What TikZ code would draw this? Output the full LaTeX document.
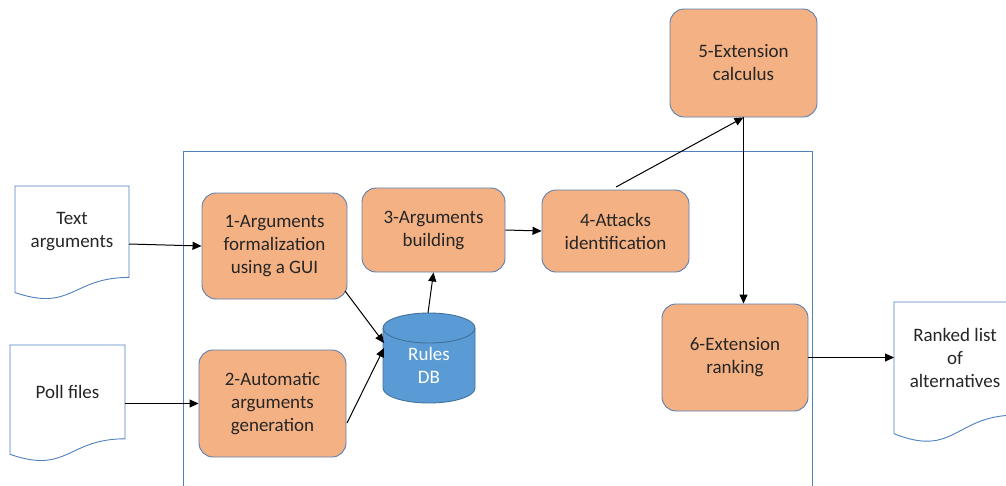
\documentclass[tikz,border=0pt]{standalone}
\usepackage{fontspec}
\setmainfont{Carlito}
\usetikzlibrary{arrows.meta}
\definecolor{boxfill}{HTML}{F4B183}
\definecolor{boxline}{HTML}{5B80B0}
\definecolor{frameblue}{HTML}{4F81BD}
\definecolor{dbfill}{HTML}{5B9BD5}
\definecolor{dbline}{HTML}{41719C}
\definecolor{txt}{HTML}{262626}
\begin{document}
\begin{tikzpicture}[x=1pt,y=-1pt,
  stepbox/.style={draw=boxline, line width=0.9pt, fill=boxfill, rounded corners=14pt,
    align=center, text=txt, font=\fontsize{19}{23}\selectfont, inner sep=0pt},
  doctext/.style={align=center, text=txt, font=\fontsize{19}{23}\selectfont, inner sep=0pt},
  docshape/.style={draw=frameblue, line width=0.9pt, fill=white},
  conn/.style={-{Triangle[length=9pt,width=8pt]}, line width=1pt, black}]
\useasboundingbox (0,0) rectangle (1006,485);
\clip (0,0) rectangle (1006,485);
% outer frame
\draw[frameblue, line width=0.9pt] (183,151) rectangle (812,500);
% documents
\draw[docshape] (15,186) -- (129,186) -- (129,277.4) .. controls (72,277.4) and (72,312.2) .. (15,292.5) -- cycle;
\node[doctext] (ta) at (72,232) {Text\\arguments};
\draw[docshape] (10,345) -- (125,345) -- (125,438.8) .. controls (67.5,438.8) and (67.5,474.5) .. (10,454.3) -- cycle;
\node[doctext] (pf) at (67.5,392) {Poll files};
\draw[docshape] (894,302) -- (1016,302) -- (1016,415.1) .. controls (955,415.1) and (955,458.1) .. (894,433.7) -- cycle;
\node[doctext] (rl) at (955,358) {Ranked list\\of\\alternatives};
% database cylinder
\draw[draw=dbline, line width=0.9pt, fill=dbfill] (383,328) -- (383,388) arc[start angle=180, end angle=360, x radius=46, y radius=-15] -- (475,328) arc[start angle=0, end angle=180, x radius=46, y radius=-15] -- cycle;
\draw[draw=dbline, line width=0.9pt] (383,328) arc[start angle=180, end angle=360, x radius=46, y radius=-15];
\node[doctext, text=white] (db) at (429,365) {Rules\\DB};
\coordinate (dbtop) at (428,313);
\coordinate (dbin1) at (384,343);
\coordinate (dbin2) at (384,348);
% process boxes
\node[stepbox, minimum width=145pt, minimum height=106pt] (b1) at (274.5,246) {1-Arguments\\formalization\\using a GUI};
\node[stepbox, minimum width=147pt, minimum height=107pt] (b2) at (272.5,403.5) {2-Automatic\\arguments\\generation};
\node[stepbox, minimum width=143pt, minimum height=84pt] (b3) at (433.5,230) {3-Arguments\\building};
\node[stepbox, minimum width=147pt, minimum height=82pt] (b4) at (615.5,231) {4-Attacks\\identification};
\node[stepbox, minimum width=147pt, minimum height=108pt] (b5) at (743.5,63) {5-Extension\\calculus};
\node[stepbox, minimum width=146pt, minimum height=107pt] (b6) at (735,357.5) {6-Extension\\ranking};
% connector ends
\coordinate (taout) at (129,244);
\coordinate (pfout) at (125,403.5);
\coordinate (rlin) at (894,357.5);
\coordinate (b1out) at (345,291);
\coordinate (b2out) at (347,423);
\coordinate (b4out) at (616,187);
% connectors
\draw[conn] (taout) -- (b1.west);
\draw[conn] (pfout) -- (b2.west);
\draw[conn] (b1out) -- (dbin1);
\draw[conn] (b2out) -- (dbin2);
\draw[conn] (dbtop) -- (b3.south);
\draw[conn] (b3.east) -- (b4.west);
\draw[conn] (b4out) -- (b5.south);
\draw[conn] (b5.south) -- (b5.south |- b6.north);
\draw[conn] (b6.east) -- (rlin);
\end{tikzpicture}
\end{document}
